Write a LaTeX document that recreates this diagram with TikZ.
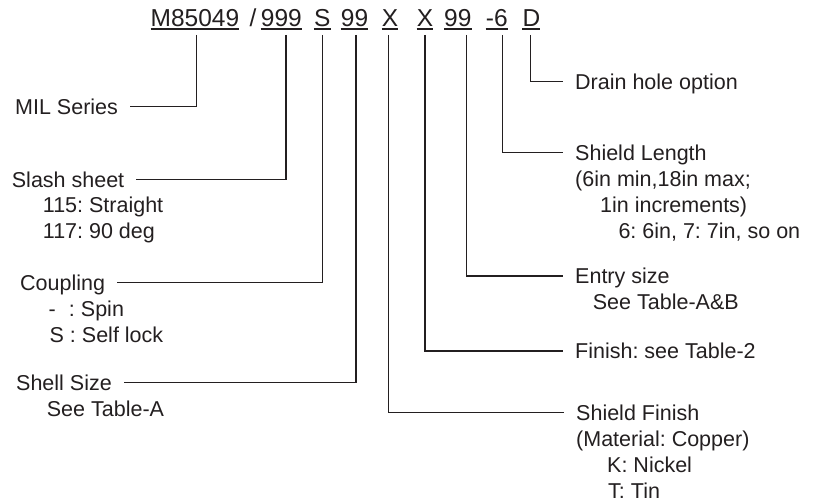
\documentclass[tikz,border=0pt]{standalone}
\usepackage{fontspec}
\setmainfont{Liberation Sans}
\definecolor{ink}{HTML}{231F20}
\frenchspacing
\begin{document}
\begin{tikzpicture}[x=1pt,y=-1pt,
  ttl/.style={anchor=base west,inner sep=0pt,text=ink,font=\fontsize{24.5}{28}\selectfont},
  head/.style={anchor=west,inner xsep=12pt,inner ysep=0pt,text height=15.5pt,text depth=0pt,text=ink,font=\fontsize{21.5}{26}\selectfont},
  sub/.style={anchor=base west,inner sep=0pt,text=ink,font=\fontsize{21.5}{26}\selectfont},
  lead/.style={draw=ink,line width=1.4pt},
  uline/.style={draw=ink,line width=1.4pt}]
\useasboundingbox (0,0) rectangle (819,502);
% part number
\node[ttl] (m)  at (150.5,26.7) {M85049};
\node[ttl] (sl) at (249.5,26.7) {/};
\node[ttl] (ss) at (260.7,26.7) {999};
\node[ttl] (cp) at (313.8,26.7) {S};
\node[ttl] (sz) at (340.7,26.7) {99};
\node[ttl] (sf) at (381.7,26.7) {X};
\node[ttl] (fn) at (416.7,26.7) {X};
\node[ttl] (es) at (444.0,26.7) {99};
\node[ttl] (ln) at (485.7,26.7) {-6};
\node[ttl] (dr) at (522.3,26.7) {D};
\foreach \n in {m,ss,cp,sz,sf,fn,es,ln,dr}
  \draw[uline] ([yshift=-2.3pt]\n.base west) -- ([yshift=-2.3pt]\n.base east);
% tick tops
\coordinate (tm)  at (196.7,35);
\coordinate (tss) at (286,35);
\coordinate (tcp) at (322.7,35);
\coordinate (tsz) at (356,35);
\coordinate (tsf) at (388.3,35);
\coordinate (tfn) at (425,35);
\coordinate (tes) at (466.5,35);
\coordinate (tln) at (502.3,35);
\coordinate (tdr) at (530.5,35);
% left labels
\node[head] (mil)   at (3,106.7) {MIL Series};
\node[head] (slash) at (-0.3,179.3) {Slash sheet};
\node[sub]  (s115)  at (42.7,213) {115: Straight};
\node[sub]  (s117)  at (42.7,239) {117: 90 deg};
\node[head] (coup)  at (8,282.7) {Coupling};
\node[sub]  (spin)  at (48.5,316.5) {\rlap{-}\phantom{S} : Spin};
\node[sub]  (slock) at (49.5,342.5) {S : Self lock};
\node[head] (shell) at (4,382.7) {Shell Size};
\node[sub]  (tabA)  at (46.7,416.5) {See Table-A};
% right labels
\node[head] (drain) at (563,81.7) {Drain hole option};
\node[head] (slen)  at (563,152.7) {Shield Length};
\node[sub]  (sl1)   at (575,186.5) {(6in min,18in max;};
\node[sub]  (sl2)   at (600,212.5) {1in increments)};
\node[sub]  (sl3)   at (618.3,238.5) {6: 6in, 7: 7in, so on};
\node[head] (entry) at (563,276) {Entry size};
\node[sub]  (tabAB) at (592.7,309.8) {See Table-A\&B};
\node[head] (fin)   at (563,351) {Finish: see Table-2};
\node[head] (sfin)  at (564,412.7) {Shield Finish};
\node[sub]  (mat)   at (576,446.5) {(Material: Copper)};
\node[sub]  (nick)  at (607,472.5) {K: Nickel};
\node[sub]  (tin)   at (608,498) {T: Tin};
% leaders
\draw[lead] (tm)  |- (mil);
\draw[lead] (tss) |- (slash);
\draw[lead] (tcp) |- (coup);
\draw[lead] (tsz) |- (shell);
\draw[lead] (tsf) |- (sfin);
\draw[lead] (tfn) |- (fin);
\draw[lead] (tes) |- (entry);
\draw[lead] (tln) |- (slen);
\draw[lead] (tdr) |- (drain);
\end{tikzpicture}
\end{document}
